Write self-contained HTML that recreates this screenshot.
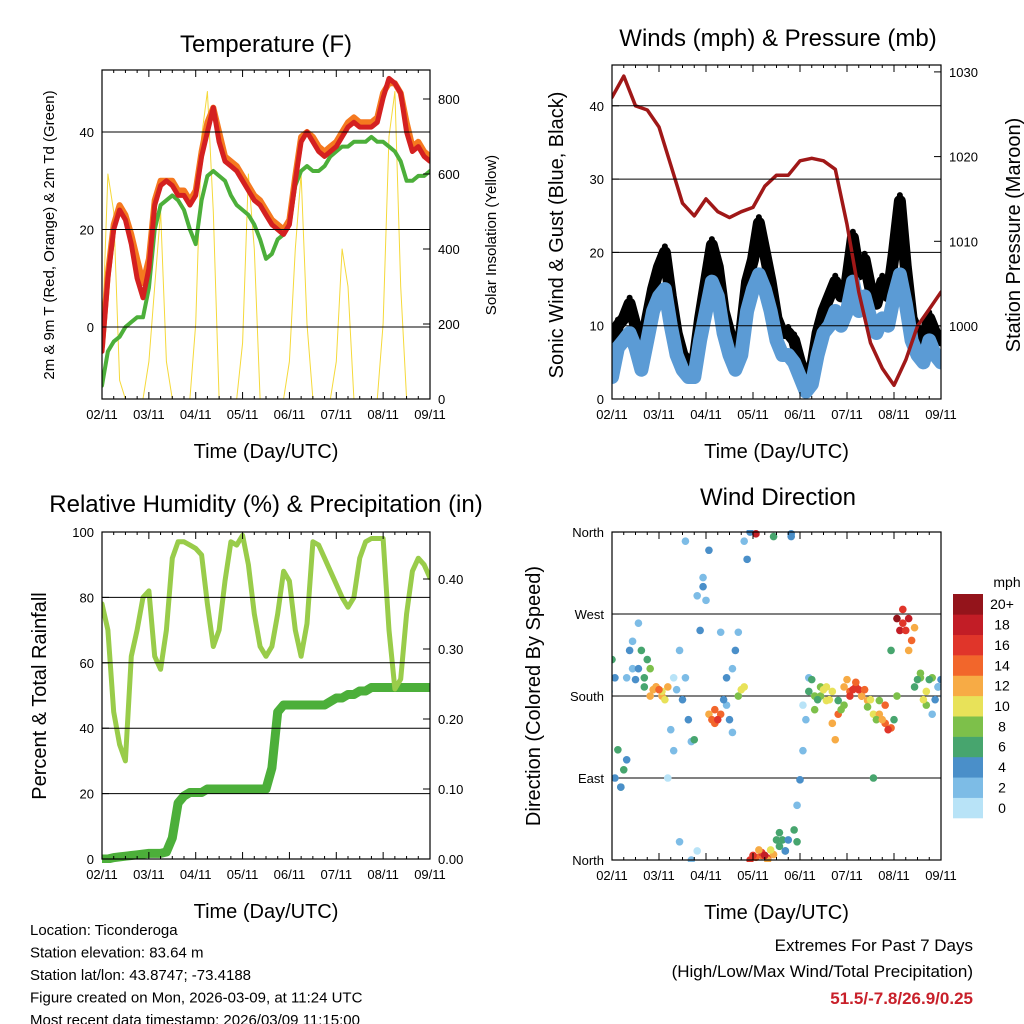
<!DOCTYPE html>
<html><head><meta charset="utf-8"><style>
html,body{margin:0;padding:0;background:#fff;}
svg{display:block;font-family:"Liberation Sans",sans-serif;}
</style></head><body>
<svg id="chart" width="1024" height="1024" viewBox="0 0 1024 1024"></svg>
<script>
// ---- data (3-hour steps from 02/11 00 UTC, 57 samples) ----
const dayLabels = ["02/11","03/11","04/11","05/11","06/11","07/11","08/11","09/11"];
const temp2m = [-5,10,20,24,22,17,10,6,12,25,29,30,29,27,27,25,27,35,40,45,38,34,33,32,30,28,26,25,23,21,20,19,21,30,38,40,38,36,35,36,37,39,41,42,41,41,41,42,47,51,50,48,40,36,37,35,34];
const temp9m = [-4,11,21,25,23,19,14,9,14,26,30,30,30,28,28,26,28,36,42,45,40,35,34,33,31,29,27,26,24,22,21,20,22,31,39,40,39,37,36,37,38,40,42,43,42,42,42,43,48,50,50,48,42,37,38,36,35];
const dewpt = [-12,-5,-3,-2,0,1,2,2,8,20,25,26,27,26,24,20,17,26,31,32,31,30,27,25,24,23,21,18,14,15,18,19,21,29,32,33,32,32,33,35,36,37,37,38,38,38,39,38,38,37,36,34,30,30,31,31,32];
const solar = [150,600,500,50,0,0,0,0,100,300,500,100,0,0,0,0,200,700,820,500,0,0,0,0,150,600,400,0,0,0,0,0,100,400,600,200,0,0,0,0,100,400,300,0,0,0,0,0,200,700,820,300,0,0,0,0,0];
const windSpd = [3,7,8,9,7,4,8,12,14,15,10,6,4,3,3,8,12,16,14,9,6,4,6,12,15,17,15,12,8,6,6,5,3,1,2,6,9,10,12,10,12,16,12,14,11,9,11,10,14,17,13,8,6,5,8,6,5];
const windGust = [6,10,11,13,10,6,11,15,18,20,14,9,6,5,5,11,16,21,18,12,9,6,9,16,19,24,20,16,11,9,9,8,5,3,4,9,12,14,16,14,16,22,17,19,15,13,16,14,20,27,18,11,9,8,11,9,8];
// pressure in 6-hour steps (29 samples)
const pressure = [1027,1029.5,1026,1025.5,1023.5,1019,1014.5,1013,1015,1013.5,1012.8,1013.5,1014,1016.5,1017.8,1017.8,1019.5,1019.8,1019.5,1018.5,1012,1004,998,995,993,996,1000,1002,1004];
const relHum = [78,70,45,35,30,62,70,80,82,62,58,70,92,97,97,96,95,93,78,65,70,85,97,96,99,90,75,65,62,65,75,88,85,70,62,72,97,96,92,88,84,80,77,80,92,97,98,98,98,70,52,55,75,88,92,90,86];
const precip = [0,0,0.002,0.003,0.004,0.005,0.006,0.007,0.008,0.008,0.008,0.01,0.03,0.08,0.09,0.095,0.095,0.095,0.1,0.1,0.1,0.1,0.1,0.1,0.1,0.1,0.1,0.1,0.1,0.13,0.21,0.22,0.22,0.22,0.22,0.22,0.22,0.22,0.22,0.225,0.23,0.23,0.235,0.235,0.24,0.24,0.245,0.245,0.245,0.245,0.245,0.245,0.245,0.245,0.245,0.245,0.245];
const dirA = [220,121,99,230,198,230,220,187,187,176,143,187,176,154,132,252,285,154,154,176,154,230,187,330,5,11,5,11,22,22,22,33,88,154,198,176,187,176,132,165,198,187,187,187,176,154,154,143,154,252,252,241,198,176,198,176,198];
const spdA = [6,7,6,4,4,7,7,13,14,11,3,2,4,4,6,4,3,15,16,4,4,4,11,4,17,13,18,10,7,7,5,7,4,2,7,7,10,10,13,8,13,17,16,14,10,9,13,16,7,18,17,14,7,10,7,4,4];
const dirB = [185,90,80,200,240,210,200,180,190,185,90,200,20,200,0,290,310,160,165,250,170,210,180,350,0,3,8,0,355,30,10,358,60,170,185,165,180,190,150,175,190,180,195,180,168,90,160,150,230,265,260,230,190,200,170,160,190];
const spdB = [3,5,5,3,2,5,6,12,12,10,1,1,2,3,3,3,3,13,14,3,3,3,9,3,16,14,16,12,6,6,4,5,3,1,6,8,9,11,12,7,12,16,15,12,9,6,12,15,6,20,16,12,6,9,8,3,3];
const dirC = [200,80,110,210,260,190,210,190,180,190,120,230,350,130,10,300,340,150,160,200,140,250,190,360,358,5,2,6,15,10,355,20,120,200,180,190,175,185,160,170,185,190,180,175,160,175,170,145,180,275,265,255,205,185,200,190,180];
const spdC = [5,6,4,3,2,6,8,14,13,12,2,3,3,2,1,4,4,14,15,5,2,2,10,4,18,15,17,12,7,6,5,6,2,3,8,9,11,11,14,9,14,16,17,13,11,8,14,15,8,17,19,13,8,10,9,5,5];
const cbLabels = ["0","2","4","6","8","10","12","14","16","18","20+"];
const cbColors = ["#b8e3f7","#7dbce6","#4a8fc9","#47a56e","#7dc04a","#e8e259","#f7ab45","#f2662b","#e0352a","#c21d26","#94141b"];

const svg = document.getElementById('chart');
const NS = 'http://www.w3.org/2000/svg';
function mk(tag, attrs, parent, text){
  const e = document.createElementNS(NS, tag);
  for (const k in attrs) e.setAttribute(k, attrs[k]);
  if (text !== undefined) e.textContent = text;
  (parent||svg).appendChild(e);
  return e;
}
function group(name){
  const g = mk('g', {});
  
  
  return g;
}
function txt(g, name, x, y, s, size, anchor, extra){
  const a = {x:x, y:y, 'font-size':size, 'text-anchor':anchor||'middle', fill:'#000'};
  if (extra) for (const k in extra) a[k] = extra[k];
  const t = mk('text', a, g, s);
  
  
  return t;
}
function frame(g, x0, y0, x1, y1){
  const r = mk('rect', {x:x0, y:y0, width:x1-x0, height:y1-y0, fill:'none', stroke:'#000', 'stroke-width':1.2}, g);
  
  
  for (let i=0;i<dayLabels.length;i++){
    const x = x0 + i*(x1-x0)/7;
    mk('line', {x1:x, y1:y1, x2:x, y2:y1-7, stroke:'#000'}, g);
    mk('line', {x1:x, y1:y0, x2:x, y2:y0+7, stroke:'#000'}, g);
    for (let m=1;m<4;m++){
      const xm = x + m*(x1-x0)/28;
      if (i<7){ mk('line', {x1:xm, y1:y1, x2:xm, y2:y1-3, stroke:'#000'}, g); mk('line', {x1:xm, y1:y0, x2:xm, y2:y0+3, stroke:'#000'}, g); }
    }
    txt(g, 'x-tick-label', x, y1+20, dayLabels[i], 13);
  }
  txt(g, 'x-axis-title', (x0+x1)/2, y1+59, 'Time (Day/UTC)', 20);
}
function yTicks(g, x0, x1, yFn, vals, labels, side, grid){
  vals.forEach((v,i)=>{
    const y = yFn(v);
    if (grid && y>0) mk('line', {x1:x0, y1:y, x2:x1, y2:y, stroke:'#000', 'stroke-width':1}, g);
    if (side==='left'){ mk('line', {x1:x0, y1:y, x2:x0+7, y2:y, stroke:'#000'}, g); txt(g, 'y-tick-label', x0-8, y+5, labels[i], 13, 'end'); }
    else { mk('line', {x1:x1, y1:y, x2:x1-7, y2:y, stroke:'#000'}, g); txt(g, 'y2-tick-label', x1+8, y+5, labels[i], 13, 'start'); }
  });
}
function poly(g, name, xs, ys, color, w){
  const p = mk('polyline', {points: xs.map((x,i)=>x.toFixed(1)+','+ys[i].toFixed(1)).join(' '), fill:'none', stroke:color, 'stroke-width':w, 'stroke-linejoin':'round', 'stroke-linecap':'round'}, g);
  
  
  return p;
}

// ---- Panel 1: temperature ----
(function(){
  const g = group('temperature-panel');
  const X0=102,X1=430,Y0=70,Y1=399;
  const xh = h => X0 + h*(X1-X0)/168;
  const yT = v => 327 - v*4.875;
  const yS = v => 399 - v*0.375;
  txt(g, 'temperature-title', 266, 52, 'Temperature (F)', 24);
  const clip = mk('clipPath', {id:'c1'}, g); mk('rect', {x:X0, y:Y0, width:X1-X0, height:Y1-Y0}, clip);
  const d = mk('g', {'clip-path':'url(#c1)'}, g);
  yTicks(g, X0, X1, yT, [0,20,40], ['0','20','40'], 'left', true);
  yTicks(g, X0, X1, yS, [0,200,400,600,800], ['0','200','400','600','800'], 'right', false);
  const xs = temp2m.map((_,i)=>xh(i*3));
  poly(d, 'solar-insolation-line', xs, solar.map(yS), '#f5d93a', 1);
  poly(d, 'dewpoint-line', xs, dewpt.map(yT), '#4caf3a', 4);
  poly(d, 'temp-9m-line', xs, temp9m.map(yT), '#f5791f', 6);
  poly(d, 'temp-2m-line', xs, temp2m.map(yT), '#d42020', 5);
  frame(g, X0, Y0, X1, Y1);
  txt(g, 'y-axis-title', 0, 0, '2m & 9m T (Red, Orange) & 2m Td (Green)', 15, 'middle', {transform:'translate(54,235) rotate(-90)'});
  txt(g, 'y2-axis-title', 0, 0, 'Solar Insolation (Yellow)', 15, 'middle', {transform:'translate(496,235) rotate(-90)'});
})();

// ---- Panel 2: winds & pressure ----
(function(){
  const g = group('winds-panel');
  const X0=612,X1=941,Y0=65,Y1=399;
  const xh = h => X0 + h*(X1-X0)/168;
  const yW = v => 399 - v*7.33;
  const yP = v => 326 - (v-1000)*8.47;
  txt(g, 'winds-title', 778, 46, 'Winds (mph) & Pressure (mb)', 24);
  const clip = mk('clipPath', {id:'c2'}, g); mk('rect', {x:X0, y:Y0, width:X1-X0, height:Y1-Y0}, clip);
  const d = mk('g', {'clip-path':'url(#c2)'}, g);
  yTicks(g, X0, X1, yW, [0,10,20,30,40], ['0','10','20','30','40'], 'left', true);
  yTicks(g, X0, X1, yP, [1000,1010,1020,1030], ['1000','1010','1020','1030'], 'right', false);
  const xs = windGust.map((_,i)=>xh(i*3));
  poly(d, 'gust-line', xs, windGust.map(yW), '#000', 12);
  windGust.forEach((v,i)=>{ const c = mk('circle', {cx:xs[i], cy:yW(v)-6, r:3, fill:'#000'}, d);   });
  poly(d, 'wind-speed-line', xs, windSpd.map(yW), '#5b9bd5', 14);
  poly(d, 'pressure-line', pressure.map((_,i)=>xh(i*6)), pressure.map(yP), '#a01818', 3.5);
  frame(g, X0, Y0, X1, Y1);
  txt(g, 'y-axis-title', 0, 0, 'Sonic Wind & Gust (Blue, Black)', 20, 'middle', {transform:'translate(563,235) rotate(-90)'});
  txt(g, 'y2-axis-title', 0, 0, 'Station Pressure (Maroon)', 20, 'middle', {transform:'translate(1020,235) rotate(-90)'});
})();

// ---- Panel 3: RH & precip ----
(function(){
  const g = group('humidity-panel');
  const X0=102,X1=430,Y0=532,Y1=859;
  const xh = h => X0 + h*(X1-X0)/168;
  const yR = v => 859 - v*3.27;
  const yP = v => 859 - v*700;
  txt(g, 'humidity-title', 266, 512, 'Relative Humidity (%) & Precipitation (in)', 24);
  const clip = mk('clipPath', {id:'c3'}, g); mk('rect', {x:X0, y:Y0-2, width:X1-X0, height:Y1-Y0+6}, clip);
  const d = mk('g', {'clip-path':'url(#c3)'}, g);
  yTicks(g, X0, X1, yR, [0,20,40,60,80,100], ['0','20','40','60','80','100'], 'left', true);
  yTicks(g, X0, X1, yP, [0,0.1,0.2,0.3,0.4], ['0.00','0.10','0.20','0.30','0.40'], 'right', false);
  const xs = relHum.map((_,i)=>xh(i*3));
  poly(d, 'precip-line', xs, precip.map(yP), '#4caf3a', 9);
  poly(d, 'humidity-line', xs, relHum.map(yR), '#99cc4a', 5);
  frame(g, X0, Y0, X1, Y1);
  txt(g, 'y-axis-title', 0, 0, 'Percent & Total Rainfall', 20, 'middle', {transform:'translate(46,696) rotate(-90)'});
})();

// ---- Panel 4: wind direction ----
(function(){
  const g = group('wind-direction-panel');
  const X0=612,X1=941,Y0=532,Y1=860;
  const xh = h => X0 + h*(X1-X0)/168;
  const yD = v => 860 - v*0.911;
  const col = s => cbColors[Math.min(10, Math.floor(s/2))];
  txt(g, 'wind-direction-title', 778, 505, 'Wind Direction', 24);
  yTicks(g, X0, X1, yD, [0,90,180,270,360], ['North','East','South','West','North'], 'left', true);
  const clip = mk('clipPath', {id:'c4'}, g); mk('rect', {x:X0, y:Y0-2, width:X1-X0, height:Y1-Y0+4}, clip);
  const d = mk('g', {'clip-path':'url(#c4)'}, g);
  [[dirC,spdC,1.5],[dirB,spdB,-1.5],[dirA,spdA,0]].forEach(([dr,sp,off])=>{
    dr.forEach((v,i)=>{
      const c = mk('circle', {cx:xh(i*3+off), cy:yD(v), r:3.8, fill:col(sp[i])}, d);
      
      
    });
  });
  frame(g, X0, Y0, X1, Y1);
  txt(g, 'y-axis-title', 0, 0, 'Direction (Colored By Speed)', 20, 'middle', {transform:'translate(540,696) rotate(-90)'});
  const cb = group('speed-colorbar');
  const bh = (818-594)/11;
  cbColors.forEach((c,i)=>{
    const y = 818 - (i+1)*bh;
    const r = mk('rect', {x:953, y:y, width:30, height:bh+0.3, fill:c}, cb);
    
    
    txt(cb, 'colorbar-label', 1002, y+bh/2+5, cbLabels[i], 14);
  });
  txt(cb, 'colorbar-unit', 1007, 587, 'mph', 14);
})();

// ---- footer text ----
(function(){
  const g = group('station-info');
  const lines = ['Location: Ticonderoga','Station elevation: 83.64 m','Station lat/lon: 43.8747; -73.4188','Figure created on Mon, 2026-03-09, at 11:24 UTC','Most recent data timestamp: 2026/03/09 11:15:00'];
  lines.forEach((s,i)=>txt(g, 'station-info-line', 30, 935+i*22.5, s, 15, 'start'));
  const e = group('extremes-summary');
  txt(e, 'extremes-title', 973, 951, 'Extremes For Past 7 Days', 17, 'end');
  txt(e, 'extremes-subtitle', 973, 977, '(High/Low/Max Wind/Total Precipitation)', 17, 'end');
  txt(e, 'extremes-values', 973, 1004, '51.5/-7.8/26.9/0.25', 17, 'end', {fill:'#c8202a', 'font-weight':'bold'});
})();
</script>
</body></html>
